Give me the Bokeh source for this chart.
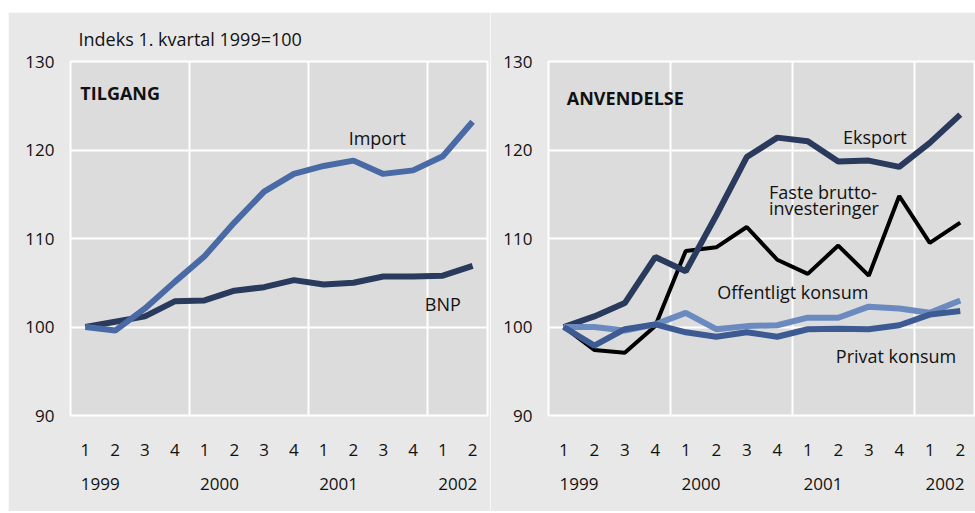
from bokeh.plotting import figure
from bokeh.models import FixedTicker, LinearAxis, Spacer
from bokeh.layouts import row, column
from bokeh.embed import file_html
from bokeh.resources import INLINE
from bokeh.core.properties import value

quarters = ["1", "2", "3", "4", "1", "2", "3", "4", "1", "2", "3", "4", "1", "2"]
years = ["1999", "2000", "2001", "2002"]
yticks = [90, 100, 110, 120, 130]

import_ = [100.0, 99.6, 102.1, 105.1, 108.0, 111.8, 115.3, 117.3, 118.2, 118.8, 117.3, 117.7, 119.3, 123.2]
bnp = [100.0, 100.6, 101.2, 102.9, 103.0, 104.1, 104.5, 105.3, 104.8, 105.0, 105.7, 105.7, 105.8, 106.9]

eksport = [100.0, 101.2, 102.7, 107.9, 106.3, 112.6, 119.2, 121.4, 121.0, 118.7, 118.8, 118.1, 120.8, 124.0]
faste = [100.0, 97.4, 97.1, 100.1, 108.6, 109.0, 111.3, 107.6, 106.0, 109.2, 105.8, 114.8, 109.5, 111.8]
offentlig = [100.0, 100.0, 99.6, 100.3, 101.6, 99.75, 100.1, 100.2, 101.05, 101.05, 102.3, 102.1, 101.6, 103.0]
privat = [100.0, 97.9, 99.75, 100.3, 99.4, 98.9, 99.4, 98.9, 99.75, 99.8, 99.75, 100.2, 101.4, 101.8]

xs = list(range(len(quarters)))
year_pos = [0.5, 4.5, 8.5, 12.5]
year_bounds = [3.5, 7.5, 11.5]

FONT = "Open Sans"
FS = "17px"
LFS = "18px"
TXT = "#111111"
OUTER = "#e8e8e8"
INNER = "#dcdcdc"
NAVY = "#293a5d"
BLUE = "#4a6aa5"
LIGHT = "#6a8ac0"
MID = "#3d5a92"


def make_fig(width, left, right, title=None):
    p = figure(width=width, height=499, x_range=(-0.5, 13.5), y_range=(90, 130),
               output_backend="svg", toolbar_location=None,
               min_border_left=left, min_border_right=right,
               min_border_top=49, min_border_bottom=96,
               background_fill_color=INNER, border_fill_color=OUTER,
               x_axis_location=None, y_axis_location=None)
    if title:
        p.title.text = title
        p.title.align = "left"
        p.title.offset = 8
        p.title.text_font = FONT
        p.title.text_font_size = LFS
        p.title.text_font_style = "normal"
        p.title.text_color = TXT
        p.title.text_line_height = 0.8
        p.title.standoff = 22
    p.outline_line_color = "white"
    p.outline_line_width = 2

    ya = LinearAxis(ticker=FixedTicker(ticks=yticks))
    ya.axis_line_color = None
    ya.major_tick_line_color = None
    ya.minor_tick_line_color = None
    ya.major_tick_out = 0
    ya.major_label_standoff = 16
    ya.major_label_text_font = FONT
    ya.major_label_text_font_size = FS
    ya.major_label_text_color = TXT
    p.add_layout(ya, "left")

    qa = LinearAxis(ticker=FixedTicker(ticks=xs),
                    major_label_overrides={i: q for i, q in enumerate(quarters)})
    ya2 = LinearAxis(ticker=FixedTicker(ticks=year_pos),
                     major_label_overrides={yp: y for yp, y in zip(year_pos, years)})
    for ax, st in ((qa, 28), (ya2, 19)):
        ax.axis_line_color = None
        ax.major_tick_line_color = None
        ax.minor_tick_line_color = None
        ax.major_tick_out = 0
        ax.major_tick_in = 0
        ax.major_label_standoff = st
        ax.major_label_text_font = FONT
        ax.major_label_text_font_size = FS
        ax.major_label_text_color = TXT
    p.add_layout(qa, "below")
    p.add_layout(ya2, "below")

    p.xgrid.ticker = FixedTicker(ticks=year_bounds)
    p.ygrid.ticker = FixedTicker(ticks=yticks)
    p.xgrid.grid_line_color = "white"
    p.ygrid.grid_line_color = "white"
    p.xgrid.grid_line_width = 2
    p.ygrid.grid_line_width = 2
    return p


def label(p, x, y, t, bold=False, align="left"):
    p.text(x=[x], y=[y], text=[t], text_font=value(FONT), text_font_size=LFS,
           text_font_style="bold" if bold else "normal", text_color=TXT,
           text_align=align, text_baseline="middle")


p1 = make_fig(482, 62, 3, title="Indeks 1. kvartal 1999=100")
p1.line(xs, bnp, line_color=NAVY, line_width=6)
p1.line(xs, import_, line_color=BLUE, line_width=6)
label(p1, -0.17, 126.4, "TILGANG", bold=True)
label(p1, 9.8, 121.4, "Import", align="center")
label(p1, 12.0, 102.6, "BNP", align="center")

p2 = make_fig(485, 58, 0)
p2.line(xs, faste, line_color="black", line_width=4)
p2.line(xs, eksport, line_color=NAVY, line_width=6)
p2.line(xs, offentlig, line_color=LIGHT, line_width=6)
p2.line(xs, privat, line_color=MID, line_width=6)
label(p2, 0.1, 125.9, "ANVENDELSE", bold=True)
label(p2, 10.2, 121.5, "Eksport", align="center")
label(p2, 6.73, 115.2, "Faste brutto-")
label(p2, 6.73, 113.4, "investeringer")
label(p2, 5.03, 104.0, "Offentligt konsum")
label(p2, 8.92, 96.7, "Privat konsum")

layout = column(Spacer(height=12, width=975), row(Spacer(width=8, height=499), p1, p2))
open("out.html", "w").write(file_html(layout, INLINE))
